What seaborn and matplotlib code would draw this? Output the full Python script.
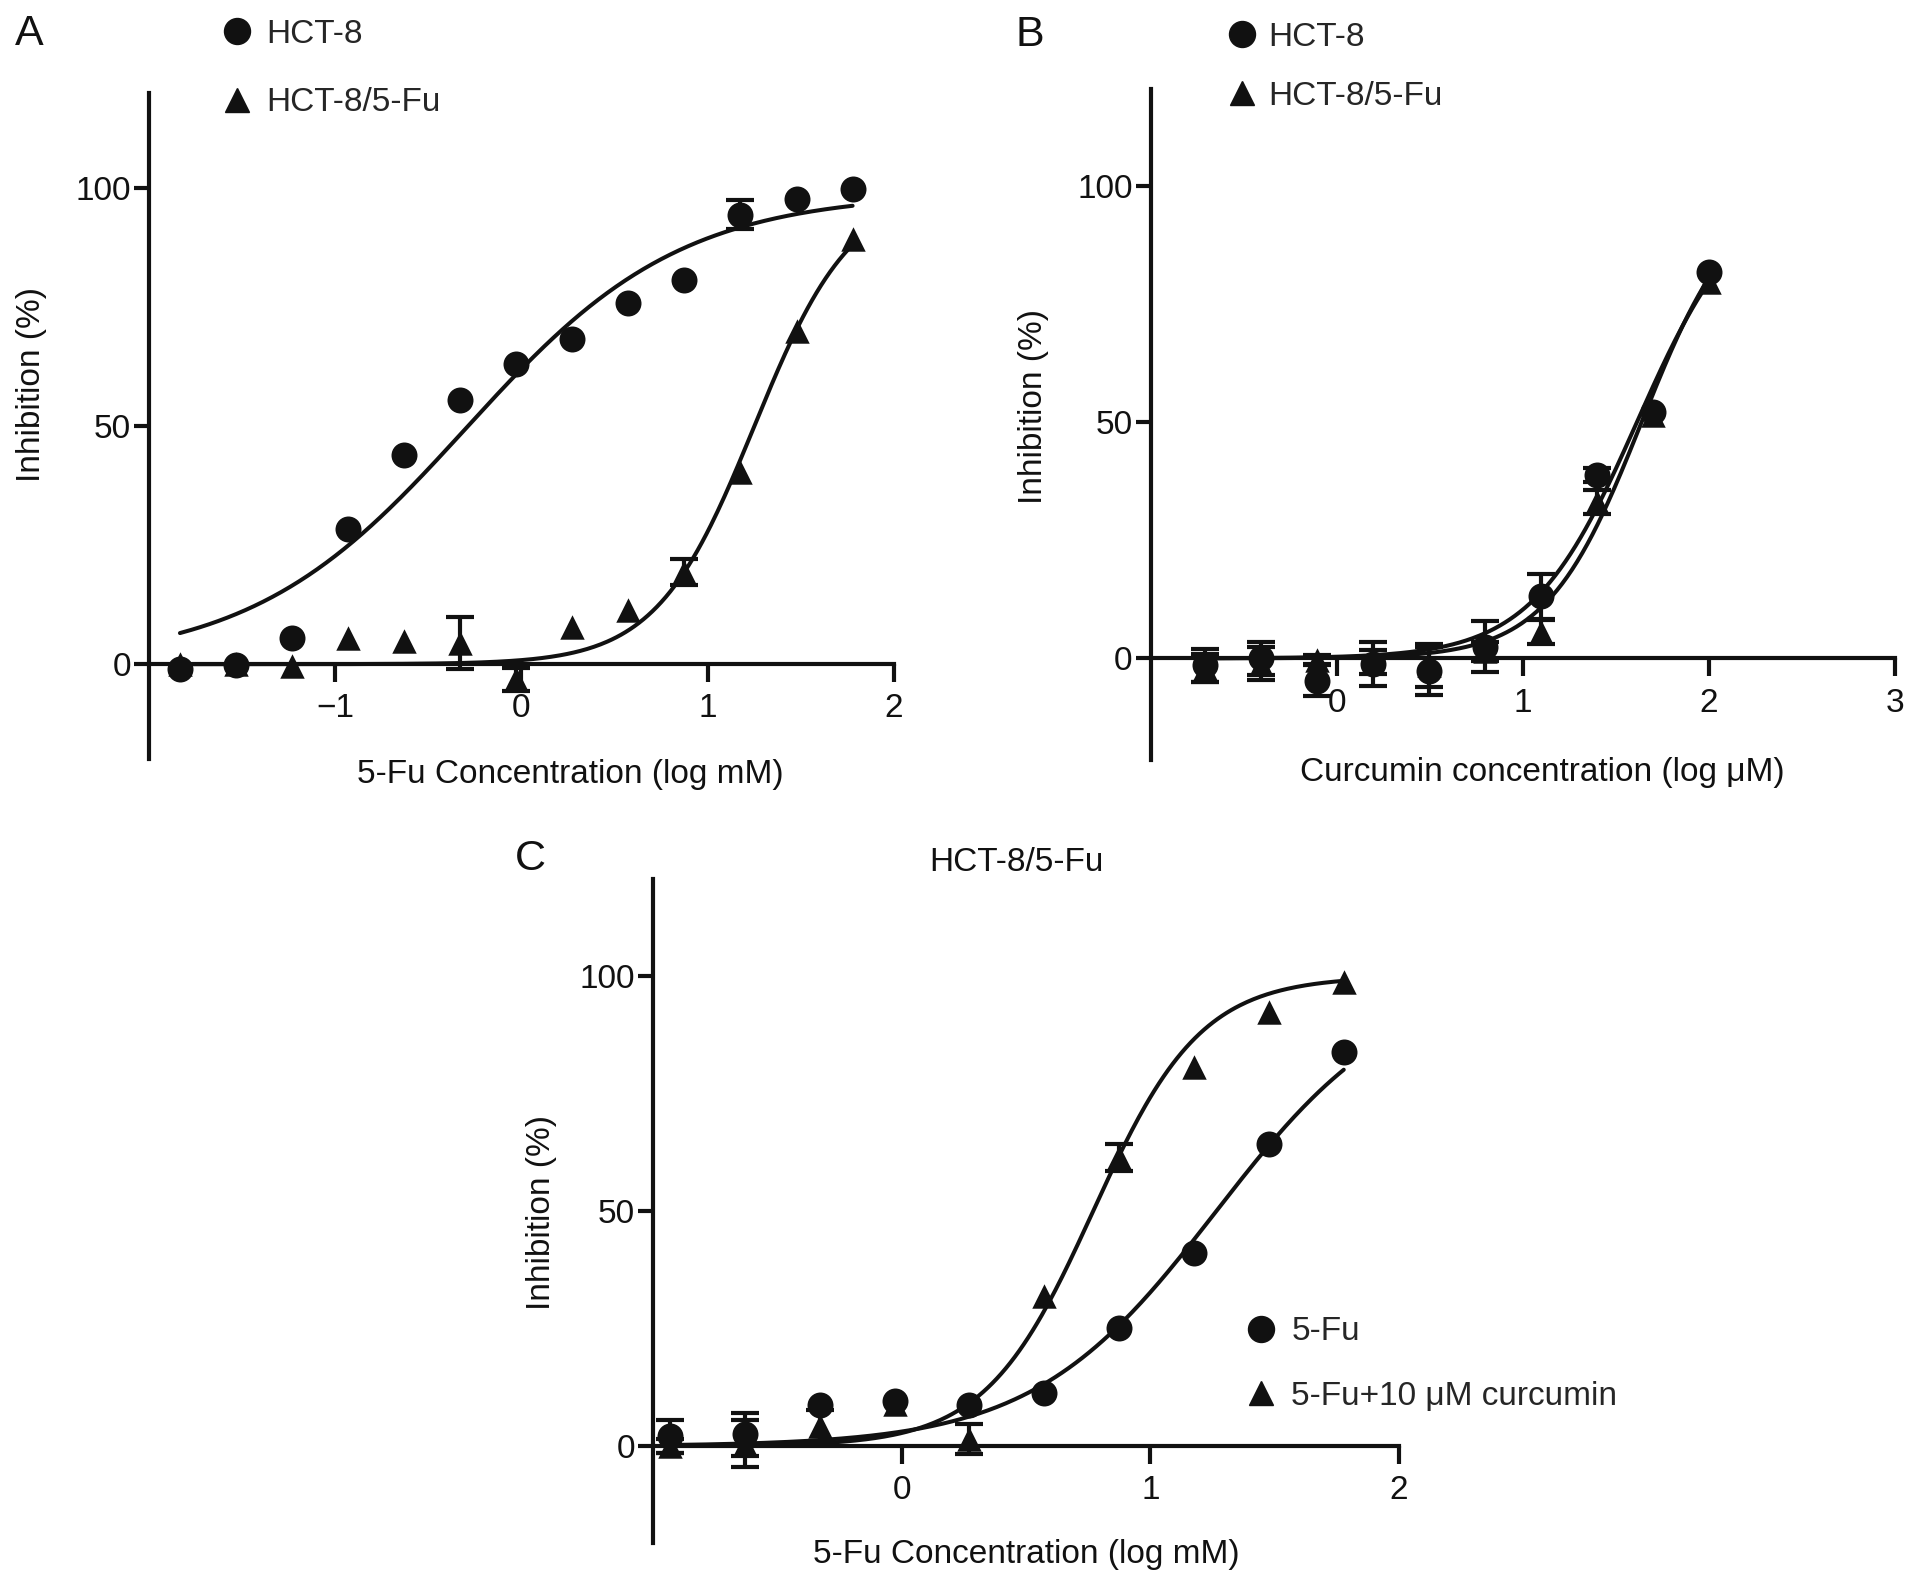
import numpy as np
import pandas as pd
import matplotlib
matplotlib.use("Agg")
import matplotlib.pyplot as plt
from matplotlib.lines import Line2D
import seaborn as sns

# ---------------- data ----------------
# Panel A: 5-Fu (log mM)
a_logconc = [-1.834, -1.533, -1.232, -0.931, -0.630, -0.329, -0.028, 0.273, 0.574, 0.875, 1.176, 1.477, 1.778]
a_hct8 = [-1.0, -0.2, 5.4, 28.5, 44.0, 55.5, 63.0, 68.4, 76.0, 80.8, 94.5, 97.7, 99.9]
a_hct8_sd = [0, 0, 0, 0, 0, 0, 0, 0, 0, 0, 3.0, 0, 0]
a_res = [0.0, 0.0, -0.3, 5.4, 4.8, 4.5, -3.2, 7.9, 11.3, 19.4, 40.4, 70.0, 89.4]
a_res_sd = [0, 0, 0, 0, 0, 5.5, 2.5, 0, 0, 2.7, 0, 0, 0]
# fitted curve parameters: bottom, top, logEC50, hill slope
a_fit_hct8 = [0, 99, -0.30, 0.75]
a_fit_res = [0, 100, 1.25, 1.65]

# Panel B: curcumin (log uM)
b_logconc = [-0.709, -0.408, -0.107, 0.194, 0.495, 0.796, 1.097, 1.398, 1.699, 2.0]
b_hct8 = [-1.5, 0.0, -4.7, -1.2, -2.6, 2.5, 13.1, 38.8, 52.2, 81.8]
b_hct8_sd = [3.4, 3.5, 3.3, 4.7, 5.1, 5.3, 4.7, 1.5, 0, 0]
b_res = [-2.0, -1.1, -0.3, -0.8, -1.5, 1.5, 5.6, 33.0, 51.5, 79.7]
b_res_sd = [3.0, 3.5, 1.0, 2.5, 4.5, 2.0, 2.6, 2.5, 0, 0]
b_fit_hct8 = [0, 100, 1.615, 1.53]
b_fit_res = [0, 100, 1.64, 1.70]

# Panel C: HCT-8/5-Fu, 5-Fu (log mM)
c_logconc = [-0.931, -0.630, -0.329, -0.028, 0.273, 0.574, 0.875, 1.176, 1.477, 1.778]
c_fu = [2.1, 2.5, 8.8, 9.6, 8.8, 11.3, 25.1, 41.1, 64.4, 83.9]
c_fu_sd = [3.5, 4.6, 0, 0, 0, 0, 0, 0, 0, 0]
c_combo = [0.0, 0.5, 4.2, 9.0, 1.5, 32.0, 61.5, 80.7, 92.4, 98.7]
c_combo_sd = [1.5, 5.0, 3.5, 0, 3.2, 0, 2.9, 0, 0, 0]
c_fit_fu = [0, 100, 1.265, 1.18]
c_fit_combo = [0, 100, 0.77, 2.0]

y_ticks = [0, 50, 100]

# ---------------- style ----------------
sns.set_theme(style="ticks")
plt.rcParams["font.family"] = ["Liberation Sans", "DejaVu Sans"]
FS = 24
INK = "#111111"
LW = 3.0
CURVE_LW = 2.9
S_CIRCLE = 350
S_TRI = 310


def hill(x, p):
    bottom, top, logec50, h = p
    return bottom + (top - bottom) / (1 + 10 ** ((logec50 - x) * h))


def draw_series(ax, x, y, sd, fit, marker, size):
    df = pd.DataFrame({"x": x, "y": y, "sd": sd})
    xs = np.linspace(min(x), max(x), 300)
    curve = pd.DataFrame({"x": xs, "y": hill(xs, fit)})
    sns.lineplot(data=curve, x="x", y="y", ax=ax, color=INK, lw=CURVE_LW, zorder=2)
    e = df[df["sd"] > 0]
    if len(e):
        ax.errorbar(e["x"], e["y"], yerr=e["sd"], fmt="none", ecolor=INK,
                    elinewidth=3.0, capsize=10, capthick=3.0, zorder=3)
    sns.scatterplot(data=df, x="x", y="y", ax=ax, marker=marker, s=size,
                    color=INK, edgecolor=INK, linewidth=0, zorder=4, legend=False)


def style_axis(ax, xlim, ylim, xticks):
    ax.set_xlim(*xlim)
    ax.set_ylim(*ylim)
    ax.spines["top"].set_visible(False)
    ax.spines["right"].set_visible(False)
    ax.spines["bottom"].set_position(("data", 0))
    for s in ("left", "bottom"):
        ax.spines[s].set_linewidth(LW)
        ax.spines[s].set_color(INK)
    ax.set_xticks(xticks)
    ax.set_xticklabels([f"{t:d}".replace("-", "\u2212") for t in xticks])
    ax.set_yticks(y_ticks)
    ax.tick_params(axis="y", length=11, width=LW, pad=2, labelsize=FS, colors=INK)
    ax.tick_params(axis="x", length=13, width=LW, pad=8, labelsize=FS, colors=INK)
    ax.set_facecolor("white")


def set_labels(ax, xlabel, xpos, ylabel, ypos):
    ax.set_xlabel(xlabel, fontsize=FS, color=INK)
    ax.xaxis.set_label_coords(*xpos)
    ax.xaxis.label.set_va("center")
    ax.set_ylabel("Inhibition (%)" if ylabel is None else ylabel, fontsize=FS, color=INK)
    ax.yaxis.set_label_coords(*ypos)
    ax.yaxis.label.set_va("center")


def add_legend(ax, labels, anchor, spacing, pad):
    handles = [Line2D([], [], ls="none", marker="o", color=INK, markersize=np.sqrt(S_CIRCLE)),
               Line2D([], [], ls="none", marker="^", color=INK, markersize=np.sqrt(S_TRI))]
    ax.legend(handles, labels, loc="center left", bbox_to_anchor=anchor,
              frameon=False, fontsize=FS, borderpad=0, borderaxespad=0,
              handlelength=1.0, handletextpad=pad, labelspacing=spacing)


fig = plt.figure(figsize=(19.13, 15.82), dpi=100)
fig.patch.set_facecolor("white")

axA = fig.add_axes([0.0779, 0.520, 0.3894, 0.4211])
axB = fig.add_axes([0.6015, 0.5196, 0.3889, 0.4244])
axC = fig.add_axes([0.3413, 0.02465, 0.390, 0.4197])

# Panel A
draw_series(axA, a_logconc, a_hct8, a_hct8_sd, a_fit_hct8, "o", S_CIRCLE)
draw_series(axA, a_logconc, a_res, a_res_sd, a_fit_res, "^", S_TRI)
style_axis(axA, (-2, 2), (-20, 120), [-1, 0, 1, 2])
set_labels(axA, "5-Fu Concentration (log mM)", (0.566, -0.022), None, (-0.158, 0.562))
add_legend(axA, ["HCT-8", "HCT-8/5-Fu"], (0.0956, 1.0366), 1.12, 0.37)

# Panel B
draw_series(axB, b_logconc, b_hct8, b_hct8_sd, b_fit_hct8, "o", S_CIRCLE)
draw_series(axB, b_logconc, b_res, b_res_sd, b_fit_res, "^", S_TRI)
style_axis(axB, (-1, 3), (-21.5, 120.5), [0, 1, 2, 3])
set_labels(axB, "Curcumin concentration (log \u03bcM)", (0.526, -0.018), None, (-0.158, 0.527))
add_legend(axB, ["HCT-8", "HCT-8/5-Fu"], (0.1001, 1.0325), 0.83, 0.29)

# Panel C
draw_series(axC, c_logconc, c_fu, c_fu_sd, c_fit_fu, "o", S_CIRCLE)
draw_series(axC, c_logconc, c_combo, c_combo_sd, c_fit_combo, "^", S_TRI)
style_axis(axC, (-1, 2), (-20.6, 120.7), [0, 1, 2])
set_labels(axC, "5-Fu Concentration (log mM)", (0.5, -0.0166), None, (-0.1495, 0.4985))
add_legend(axC, ["5-Fu", "5-Fu+10 \u03bcM curcumin"], (0.7924, 0.2697), 1.0, 0.42)
axC.text(0.487, 1.0248, "HCT-8/5-Fu", transform=axC.transAxes, ha="center", va="center",
         fontsize=FS, color=INK)

# Panel letters
for letter, (fx, fy) in {"A": (0.01516, 0.9788), "B": (0.5384, 0.9781), "C": (0.277, 0.4571)}.items():
    fig.text(fx, fy, letter, ha="center", va="center", fontsize=31, color=INK)

fig.savefig("out.png", dpi=100, facecolor="white")
